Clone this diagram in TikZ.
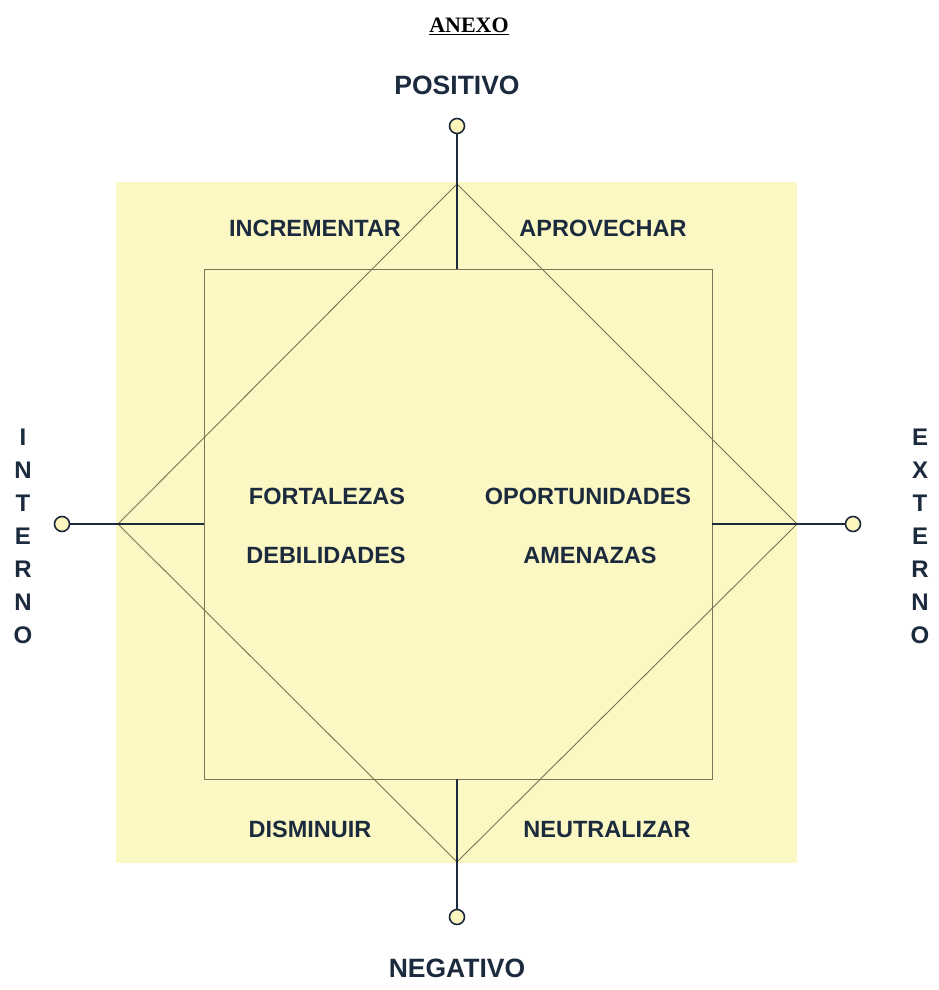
\documentclass[tikz,border=0pt]{standalone}
\usepackage{fontspec}
\setmainfont{Liberation Serif}
\setsansfont{Liberation Sans}
\usepackage{xcolor}
\definecolor{bgyellow}{RGB}{251,248,196}
\definecolor{navy}{RGB}{28,42,62}
\definecolor{thinline}{RGB}{125,115,85}
\definecolor{dotfill}{RGB}{252,246,190}
\tikzset{
  lbl/.style={font=\sffamily\bfseries\fontsize{23.5}{26}\selectfont, text=navy, inner sep=0pt},
  axis/.style={font=\sffamily\bfseries\fontsize{26.5}{30}\selectfont, text=navy, inner sep=0pt},
  vlet/.style={font=\sffamily\bfseries\fontsize{24}{33}\selectfont, text=navy, inner sep=0pt, align=center},
  thin/.style={draw=thinline, line width=0.9pt},
  thick/.style={draw=navy, line width=2pt},
  dot/.style={circle, draw=navy, line width=1.6pt, fill=dotfill, minimum size=15pt, inner sep=0pt}
}
\begin{document}
\begin{tikzpicture}[x=1pt,y=-1pt]
\useasboundingbox (0,0) rectangle (938,990);
\fill[bgyellow] (116,182) rectangle (797,863);
% inner square
\coordinate (sqtl) at (204,269);
\coordinate (sqbr) at (712,779);
\draw[thin] (sqtl) rectangle (sqbr);
% diamond
\coordinate (dt) at (457,184);
\coordinate (dr) at (797,524);
\coordinate (db) at (457,862);
\coordinate (dl) at (118,524);
\draw[thin] (dt) -- (dr) -- (db) -- (dl) -- cycle;
% square side midpoints
\coordinate (st) at (457,269);
\coordinate (sb) at (457,779);
\coordinate (sl) at (204,524);
\coordinate (sr) at (712,524);
% dots
\node[dot] (ct) at (457,126) {};
\node[dot] (cb) at (457,917) {};
\node[dot] (cl) at (62,524) {};
\node[dot] (cr) at (853,524) {};
\draw[thick] (ct) -- (st);
\draw[thick] (cb) -- (sb);
\draw[thick] (cl) -- (sl);
\draw[thick] (cr) -- (sr);
% title
\node[font=\rmfamily\bfseries\fontsize{22}{24}\selectfont, inner sep=0pt] (title) at (469,26) {\underline{ANEXO}};
\node[axis] (pos) at (457,85) {POSITIVO};
\node[axis] (neg) at (457,968) {NEGATIVO};
\node[vlet] (int) at (23,536) {I\\N\\T\\E\\R\\N\\O};
\node[vlet] (ext) at (920,536) {E\\X\\T\\E\\R\\N\\O};
% labels
\node[lbl] (inc) at (315,228) {INCREMENTAR};
\node[lbl] (apr) at (603,228) {APROVECHAR};
\node[lbl] (for) at (327,496) {FORTALEZAS};
\node[lbl] (deb) at (326,555) {DEBILIDADES};
\node[lbl] (opo) at (588,496) {OPORTUNIDADES};
\node[lbl] (ame) at (590,555) {AMENAZAS};
\node[lbl] (dis) at (310,829) {DISMINUIR};
\node[lbl] (neu) at (607,830) {NEUTRALIZAR};
\end{tikzpicture}
\end{document}
